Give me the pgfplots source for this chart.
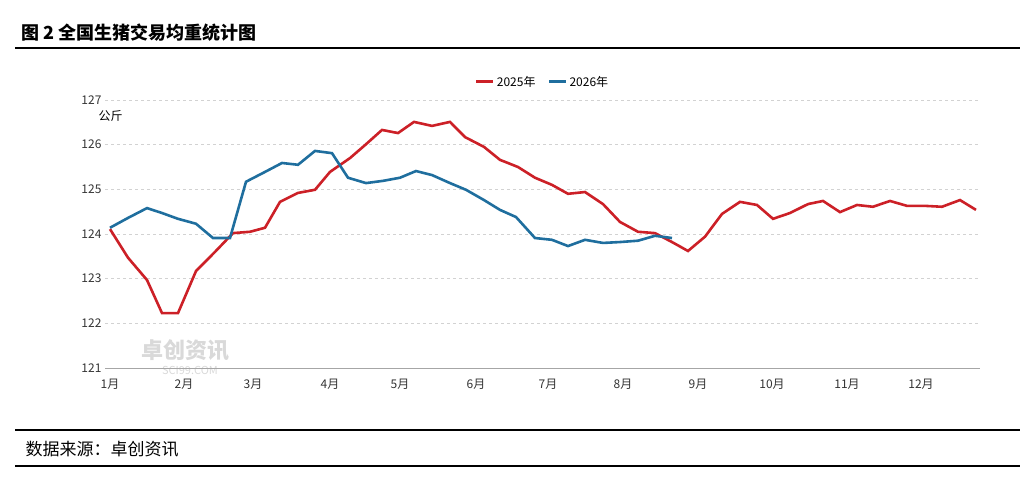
\documentclass[border=0pt]{standalone}
\usepackage{pgfplots}
\pgfplotsset{compat=1.18}
\usepackage{fontspec}
\setmainfont{Noto Sans CJK SC}
\definecolor{cred}{RGB}{204,32,39}
\definecolor{cblue}{RGB}{31,110,158}
\begin{document}
\begin{tikzpicture}
\path (0pt,0pt) rectangle (1034pt,-477pt);
\node[anchor=west,font=\fontsize{18}{21}\selectfont\bfseries] at (18pt,-33pt) {图 2 全国生猪交易均重统计图};
\draw[line width=1.2pt] (15pt,-48pt) -- (1020pt,-48pt);
\draw[line width=1.2pt] (15pt,-430pt) -- (1020pt,-430pt);
\draw[line width=1.2pt] (15pt,-466pt) -- (1020pt,-466pt);
\node[anchor=west,font=\fontsize{17}{20}\selectfont] at (22pt,-449pt) {数据来源：卓创资讯};
\node[anchor=west,font=\fontsize{12}{14}\selectfont] at (95pt,-116pt) {公斤};
\node[font=\fontsize{22}{24}\selectfont\bfseries,text=gray!30] at (185pt,-350pt) {卓创资讯};
\node[font=\fontsize{11}{13}\selectfont,text=gray!30] at (190pt,-370pt) {SCI99.COM};
\begin{axis}[at={(105pt,-368pt)},anchor=south west,scale only axis,
 width=875pt,height=268pt,xmin=105,xmax=980,ymin=121,ymax=127,
 axis x line*=bottom, axis y line*=left, x axis line style={gray!70,-},
 y axis line style={draw=none},
 ytick={121,...,127}, ymajorgrids, grid style={dashed,gray!35},
 xtick={110,184,253,330,400,476,548,623,698,772,847,921},
 xticklabels={1月,2月,3月,4月,5月,6月,7月,8月,9月,10月,11月,12月},
 xticklabel style={yshift=-8pt},
 major tick length=0pt,
 ticklabel style={font=\fontsize{12}{14}\selectfont,text=black!80},
 /pgf/number format/assume math mode=true,
 clip=false,
 legend style={at={(0.5,1.03)},anchor=south,draw=none,legend columns=2,font=\fontsize{12}{14}\selectfont,/tikz/every even column/.append style={column sep=10pt}},
 legend image code/.code={\draw[#1,line width=3pt] (0,0) -- (0.6cm,0);},
]
\addplot[cred,line width=2.6pt] coordinates {
(110,124.11)(128,123.47)(147,122.97)(162,122.23)(178,122.23)(196,123.17)(215,123.60)(233,124.02)(250,124.05)(265,124.14)(280,124.72)(298,124.92)(315,124.99)(330,125.39)(350,125.70)(365,125.99)(382,126.33)(398,126.26)(414,126.51)(432,126.42)(450,126.51)(465,126.17)(484,125.95)(500,125.66)(518,125.50)(535,125.26)(552,125.10)(568,124.90)(585,124.94)(603,124.67)(620,124.27)(638,124.05)(655,124.02)(672,123.82)(688,123.62)(705,123.94)(722,124.45)(740,124.72)(757,124.65)(773,124.34)(790,124.47)(808,124.67)(823,124.74)(840,124.49)(857,124.65)(873,124.61)(890,124.74)(907,124.63)(925,124.63)(942,124.61)(960,124.76)(976,124.54)};
\addlegendentry{2025年}
\addplot[cblue,line width=2.6pt] coordinates {
(110,124.14)(128,124.36)(147,124.58)(162,124.47)(178,124.34)(196,124.23)(213,123.91)(230,123.91)(246,125.17)(265,125.39)(282,125.59)(298,125.55)(315,125.86)(332,125.81)(348,125.26)(366,125.14)(383,125.19)(400,125.26)(416,125.41)(432,125.32)(450,125.14)(466,124.99)(484,124.76)(500,124.54)(516,124.38)(535,123.91)(552,123.87)(568,123.73)(585,123.87)(603,123.80)(620,123.82)(638,123.85)(655,123.96)(672,123.91)};
\addlegendentry{2026年}
\end{axis}
\end{tikzpicture}
\end{document}
